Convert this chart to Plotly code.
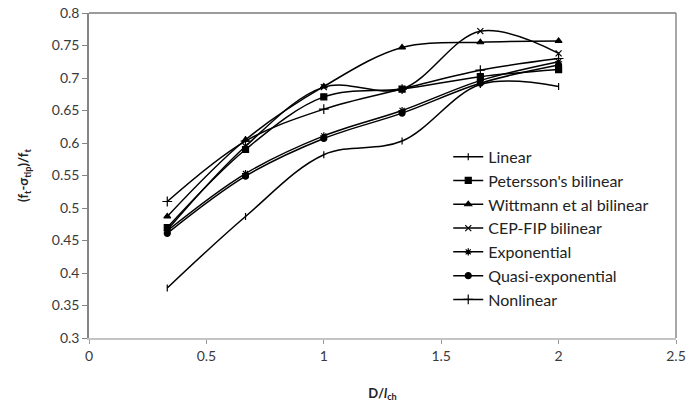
import plotly.graph_objects as go

# Normalised specimen size D/lch
d_over_lch = [1/3, 2/3, 1.0, 4/3, 5/3, 2.0]

# (ft - sigma_tip)/ft for each softening law
linear = [0.377, 0.487, 0.582, 0.603, 0.690, 0.687]
petersson = [0.470, 0.590, 0.671, 0.683, 0.702, 0.713]
wittmann = [0.487, 0.605, 0.687, 0.747, 0.755, 0.757]
cep_fip = [0.466, 0.595, 0.686, 0.683, 0.772, 0.738]
exponential = [0.465, 0.553, 0.611, 0.650, 0.696, 0.725]
quasi_exponential = [0.461, 0.549, 0.607, 0.646, 0.692, 0.720]
nonlinear = [0.510, 0.603, 0.652, 0.683, 0.712, 0.730]

series = [
    ("Linear", linear, "line-ns-open", 5),
    ("Petersson's bilinear", petersson, "square", 6),
    ("Wittmann et al bilinear", wittmann, "triangle-up", 6),
    ("CEP-FIP bilinear", cep_fip, "x-thin-open", 6),
    ("Exponential", exponential, "asterisk-open", 6),
    ("Quasi-exponential", quasi_exponential, "circle", 6),
    ("Nonlinear", nonlinear, "cross-thin-open", 7),
]

font_family = "Lato, 'Open Sans', sans-serif"

fig = go.Figure()
for name, values, symbol, size in series:
    fig.add_trace(go.Scatter(
        x=d_over_lch, y=values, name=name,
        mode="lines+markers",
        line=dict(color="black", width=1.5, shape="spline", smoothing=1.0),
        marker=dict(symbol=symbol, size=size, color="black",
                    line=dict(color="black", width=1.2)),
    ))

fig.update_layout(
    width=687, height=412,
    margin=dict(l=89, r=11, t=13, b=74),
    paper_bgcolor="white", plot_bgcolor="white",
    font=dict(family=font_family, size=14, color="#3a3a3a"),
    showlegend=True,
    legend=dict(
        x=0.612, y=0.61, xanchor="left", yanchor="top",
        bgcolor="rgba(0,0,0,0)", font=dict(size=16, color="#222"),
        itemwidth=30, tracegroupgap=0,
    ),
    xaxis=dict(
        range=[0, 2.5], dtick=0.5, tick0=0, automargin=False,
        showgrid=False, zeroline=False,
        showline=True, linecolor="#c4c4c4", linewidth=1.5,
        ticks="outside", ticklen=4, tickcolor="#9a9a9a",
        tickformat="~g",
        title=dict(text="<b>D/<i>l</i><sub>ch</sub></b>", standoff=26,
                   font=dict(size=13, color="#222")),
    ),
    yaxis=dict(
        range=[0.3, 0.8], dtick=0.05, tick0=0.3, automargin=False,
        showgrid=False, zeroline=False,
        showline=True, linecolor="#858585", linewidth=1.5,
        ticks="outside", ticklen=5, tickcolor="#858585",
        tickformat="~g",
        title=dict(text="<b>(f<sub>t</sub>-σ<sub>tip</sub>)/f<sub>t</sub></b>",
                   standoff=20, font=dict(size=13, color="#222")),
    ),
    shapes=[
        dict(type="line", xref="paper", yref="paper", x0=0, x1=1, y0=1, y1=1,
             line=dict(color="#7a7a7a", width=1.5)),
        dict(type="line", xref="paper", yref="paper", x0=1, x1=1, y0=0, y1=1,
             line=dict(color="#8a8a8a", width=1.5)),
    ],
)

fig.write_html("out.html")
